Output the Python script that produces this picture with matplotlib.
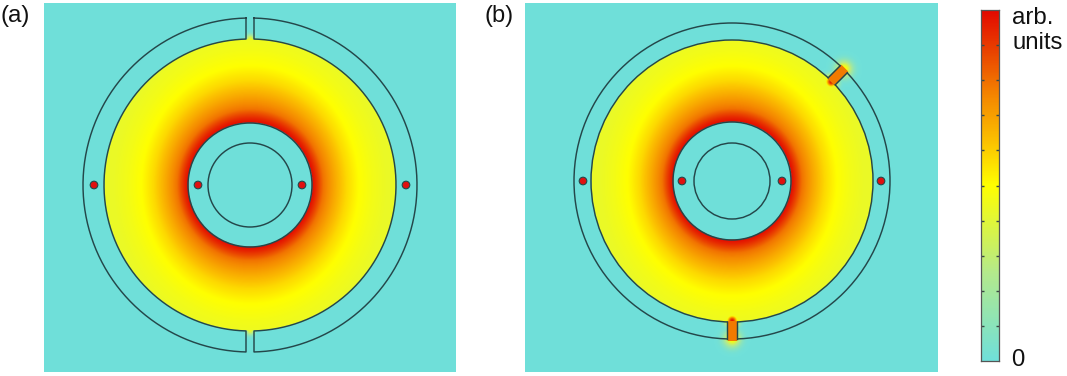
import numpy as np
import matplotlib
matplotlib.use('Agg')
import matplotlib.pyplot as plt
from matplotlib.colors import LinearSegmentedColormap
from matplotlib.patches import Circle, Rectangle
from matplotlib.transforms import Affine2D

plt.rcParams['font.family'] = ['Liberation Sans', 'DejaVu Sans']

# colour scale
cmap_pos = [0.0, 0.25, 0.5, 0.62, 0.75, 0.88, 1.0]
cmap_col = ['#70e0da', '#b4ea8c', '#ffff00', '#fcc400', '#f58a00', '#ea4500', '#e30a00']
cmap = LinearSegmentedColormap.from_list('field', list(zip(cmap_pos, cmap_col)))

# field strength vs distance from the core edge (fraction of the gap)
profile_dist = [0.0, 0.05, 0.15, 0.3, 0.45, 0.62, 0.8, 1.0]
profile_val = [1.0, 0.94, 0.79, 0.68, 0.58, 0.5, 0.46, 0.43]

# panel geometry in image pixels
W, H = 1067, 376
panel_a = dict(x0=44, x1=456, y0=3, y1=372, cx=250, cy=185, r_out=167, r_ring=146,
               r_core=62, r_in=42, dots=[52, 156])
panel_b = dict(x0=525, x1=938, y0=3, y1=372, cx=732, cy=181, r_out=158, r_ring=141,
               r_core=59, r_in=38, dots=[50, 149])
gap_half = 4
slit_half = 5
slit_angles = [-90, 45]
line_col = '#24474a'
dot_col = '#e01010'


def make_ax(p):
    ax = fig.add_axes([p['x0'] / W, 1 - p['y1'] / H, (p['x1'] - p['x0']) / W, (p['y1'] - p['y0']) / H])
    ax.set_xlim(p['x0'] - p['cx'], p['x1'] - p['cx'])
    ax.set_ylim(p['cy'] - p['y1'], p['cy'] - p['y0'])
    ax.axis('off')
    return ax


def field(p):
    x = np.arange(p['x0'] - p['cx'], p['x1'] - p['cx'], 0.5)
    y = np.arange(p['cy'] - p['y1'], p['cy'] - p['y0'], 0.5)
    xx, yy = np.meshgrid(x, y)
    r = np.hypot(xx, yy)
    s = np.abs(yy) / np.maximum(r, 1e-6)
    # the hot band is a little wider above and below the core
    d = (r - p['r_core']) / (p['r_ring'] - p['r_core']) / (0.9 + 0.2 * s ** 2)
    z = np.interp(d, profile_dist, profile_val)
    z[(r < p['r_core']) | (r > p['r_ring'])] = 0
    return x, y, xx, yy, z


def show(ax, x, y, z):
    ax.imshow(z, origin='lower', extent=[x[0], x[-1], y[0], y[-1]], cmap=cmap, vmin=0, vmax=1,
              interpolation='bilinear', aspect='auto', zorder=1)


def circle_line(ax, radius):
    ax.add_patch(Circle((0, 0), radius, fill=False, ec=line_col, lw=1.05, zorder=3))


def dots(ax, p):
    for d in p['dots']:
        for s in (-1, 1):
            ax.add_patch(Circle((s * d, 0), 3.8, fc=dot_col, ec=line_col, lw=0.8, zorder=4))


fig = plt.figure(figsize=(W / 100, H / 100), dpi=100)

# panel (a): ring cut at the top and bottom
ax = make_ax(panel_a)
x, y, xx, yy, z = field(panel_a)
for sy in (-1, 1):
    hot = np.exp(-(xx ** 2 + (yy - sy * 146) ** 2) / 18)
    z = np.maximum(z, 0.42 * hot * (np.abs(xx) < gap_half + 2))
show(ax, x, y, z)
for r in (panel_a['r_core'], panel_a['r_in']):
    circle_line(ax, r)
out_a = np.arcsin(gap_half / panel_a['r_out'])
ring_a = np.arcsin(gap_half / panel_a['r_ring'])
for side in (-1, 1):
    t_out = np.linspace(out_a, np.pi - out_a, 300)
    t_ring = np.linspace(np.pi - ring_a, ring_a, 300)
    xs = np.r_[panel_a['r_out'] * np.sin(t_out), panel_a['r_ring'] * np.sin(t_ring)]
    ys = np.r_[panel_a['r_out'] * np.cos(t_out), panel_a['r_ring'] * np.cos(t_ring)]
    ax.plot(side * np.r_[xs, xs[0]], np.r_[ys, ys[0]], color=line_col, lw=1.05, zorder=3)
dots(ax, panel_a)

# panel (b): ring closed, with two bright slits
ax = make_ax(panel_b)
x, y, xx, yy, z = field(panel_b)
for ang in slit_angles:
    c, s = np.cos(np.radians(ang)), np.sin(np.radians(ang))
    along = xx * c + yy * s
    across = -xx * s + yy * c
    tip = np.hypot(along - panel_b['r_out'], across)
    root = np.hypot(along - panel_b['r_ring'] + 1, across)
    z = np.maximum(z, 0.52 * np.exp(-(tip / 8) ** 2))
    z = np.maximum(z, 0.98 * np.exp(-(root / 6) ** 2))
    inside = (np.abs(across) < slit_half) & (along > panel_b['r_ring'] + 1) & (along < panel_b['r_out'] + 1)
    z[inside] = 0.78
show(ax, x, y, z)
for r in (panel_b['r_out'], panel_b['r_ring'], panel_b['r_core'], panel_b['r_in']):
    circle_line(ax, r)
for ang in slit_angles:
    rot = Affine2D().rotate_deg(ang) + ax.transData
    ax.add_patch(Rectangle((panel_b['r_ring'] - 1, -slit_half + 0.5), panel_b['r_out'] - panel_b['r_ring'] + 2.5,
                           2 * slit_half - 1, fc=cmap(0.78), ec='none', transform=rot, zorder=3.2))
    ax.plot([panel_b['r_ring'], panel_b['r_out']], [slit_half, slit_half], color=line_col, lw=1.05,
            transform=rot, zorder=3.5)
    ax.plot([panel_b['r_ring'], panel_b['r_out']], [-slit_half, -slit_half], color=line_col, lw=1.05,
            transform=rot, zorder=3.5)
dots(ax, panel_b)

# colour bar
cax = fig.add_axes([981 / W, 1 - 361 / H, 18 / W, 351 / H])
cax.imshow(np.linspace(0, 1, 400).reshape(-1, 1), origin='lower', extent=[0, 1, 0, 1], cmap=cmap,
           aspect='auto')
cax.set_xticks([])
cax.set_yticks(np.arange(0.1, 1.0, 0.1))
cax.tick_params(axis='y', direction='in', left=True, right=True, labelleft=False, length=2.5,
                width=1, color='#3a4a44')
for sp in cax.spines.values():
    sp.set_color('#555555')
    sp.set_linewidth(0.9)

fig.text(1 / W, 1 - 16 / H, '(a)', fontsize=17.5, va='center', ha='left', color='#111111')
fig.text(484 / W, 1 - 16 / H, '(b)', fontsize=17, va='center', ha='left', color='#111111')
fig.text(1012 / W, 1 - 18 / H, 'arb.', fontsize=17.3, va='center', ha='left', color='#111111')
fig.text(1012 / W, 1 - 43 / H, 'units', fontsize=17.3, va='center', ha='left', color='#111111')
fig.text(1011 / W, 1 - 360 / H, '0', fontsize=17.3, va='center', ha='left', color='#111111')

fig.savefig('out.png', dpi=100)
